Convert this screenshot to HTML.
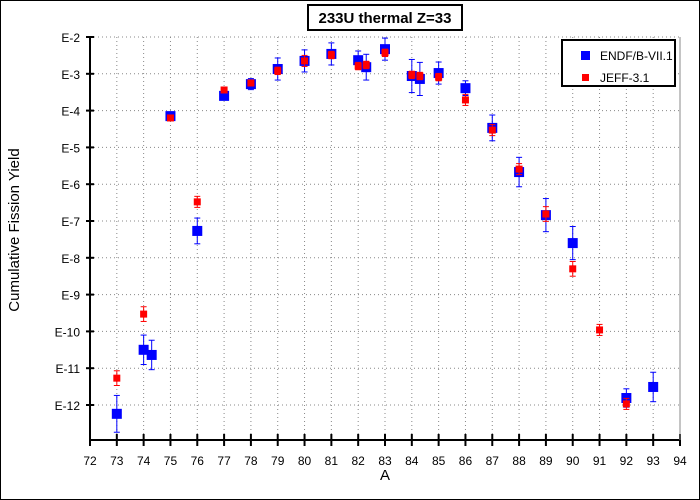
<!DOCTYPE html>
<html><head><meta charset="utf-8"><style>
body{margin:0;background:#fff}
svg{display:block;font-family:"Liberation Sans",sans-serif}
</style></head><body>
<svg id="c" width="700" height="500">
<rect x="0.5" y="0.5" width="699" height="499" fill="#fff" stroke="#000"/>
<rect x="308" y="5" width="154" height="25" fill="#fff" stroke="#000" stroke-width="2"/>
<text x="385" y="23" text-anchor="middle" font-size="15" font-weight="bold">233U thermal Z=33</text>
<g id="grid"></g>
<g id="axes"></g>
<g id="marks"></g>
<text x="385" y="480" text-anchor="middle" font-size="15">A</text>
<text transform="translate(19,230) rotate(-90)" text-anchor="middle" font-size="15">Cumulative Fission Yield</text>
<g>
<rect x="562" y="40" width="113" height="46" fill="#fff" stroke="#000" stroke-width="2"/>
<rect x="581" y="51" width="9" height="9" fill="#0000ff"/>
<text x="600" y="60" font-size="12">ENDF/B-VII.1</text>
<rect x="582" y="74" width="7" height="7" fill="#ff0000"/>
<text x="600" y="82" font-size="12">JEFF-3.1</text>
</g>
</svg>
<script>
const xTicks=[72,73,74,75,76,77,78,79,80,81,82,83,84,85,86,87,88,89,90,91,92,93,94];
const yTicks=[-2,-3,-4,-5,-6,-7,-8,-9,-10,-11,-12];
const yTickLabels=["E-2","E-3","E-4","E-5","E-6","E-7","E-8","E-9","E-10","E-11","E-12"];
const endfA=[73,74,74.3,75,76,77,78,79,80,81,82,82.3,83,84,84.3,85,86,87,88,89,90,92,93];
const endfLog=[-12.24,-10.5,-10.64,-4.15,-7.27,-3.6,-3.28,-2.87,-2.65,-2.46,-2.63,-2.82,-2.33,-3.06,-3.14,-2.98,-3.39,-4.47,-5.67,-6.84,-7.6,-11.81,-11.51];
const endfErr=[0.5,0.4,0.4,0.05,0.35,0.05,0.15,0.3,0.3,0.3,0.25,0.35,0.3,0.45,0.45,0.3,0.2,0.35,0.4,0.45,0.45,0.25,0.4];
const jeffA=[73,74,75,76,77,78,79,80,81,82,82.3,83,84,84.3,85,86,87,88,89,90,91,92];
const jeffLog=[-11.27,-9.53,-4.2,-6.48,-3.44,-3.25,-2.92,-2.65,-2.49,-2.79,-2.76,-2.43,-3.03,-3.06,-3.09,-3.71,-4.53,-5.59,-6.81,-8.3,-9.96,-11.97];
const jeffErr=[0.2,0.2,0.05,0.15,0.05,0.05,0.1,0.15,0.1,0.1,0.1,0.1,0.1,0.1,0.1,0.15,0.15,0.15,0.2,0.2,0.15,0.15];
const X=a=>90+(a-72)*(590/22);
const Y=l=>37+(-2-l)*36.8;
const NS="http://www.w3.org/2000/svg";
function mk(p,t,at){const e=document.createElementNS(NS,t);for(const k in at)e.setAttribute(k,at[k]);p.appendChild(e);return e;}
const grid=document.getElementById('grid'),axes=document.getElementById('axes'),marks=document.getElementById('marks');
xTicks.forEach(a=>{
 if(a>72){const l=mk(grid,'line',{x1:X(a),x2:X(a),y1:37,y2:440,stroke:'#888','stroke-dasharray':'1 3'});
 
 }
 const t=mk(axes,'line',{x1:X(a),x2:X(a),y1:434,y2:446,stroke:'#000','stroke-width':2});
 
 
 const tx=mk(axes,'text',{x:X(a),y:465,'text-anchor':'middle','font-size':12});
 tx.textContent=a;
 
 
});
yTicks.forEach((v,i)=>{
 const l=mk(grid,'line',{x1:90,x2:680,y1:Y(v),y2:Y(v),stroke:'#888','stroke-dasharray':'1 3'});
 
 
 const t=mk(axes,'line',{x1:86,x2:94,y1:Y(v),y2:Y(v),stroke:'#000','stroke-width':2});
 
 
 const tx=mk(axes,'text',{x:80,y:Y(v)+5,'text-anchor':'end','font-size':12});
 tx.textContent=yTickLabels[i];
 
 
});
const ax=mk(axes,'path',{d:'M90,37 V440 H680',fill:'none',stroke:'#000','stroke-width':2});


const rl=mk(axes,'line',{x1:680,x2:680,y1:37,y2:440,stroke:'#888'});


function series(A,L,E,col,sz,name){
 A.forEach((a,i)=>{
  const x=X(a),y=Y(L[i]),y1=Y(L[i]+E[i]),y2=Y(L[i]-E[i]);
  const g=mk(marks,'g',{});
  
  
  mk(g,'line',{x1:x,x2:x,y1:y1,y2:y2,stroke:col});
  mk(g,'line',{x1:x-3,x2:x+3,y1:y1,y2:y1,stroke:col});
  mk(g,'line',{x1:x-3,x2:x+3,y1:y2,y2:y2,stroke:col});
  mk(g,'rect',{x:x-sz/2,y:y-sz/2,width:sz,height:sz,fill:col});
 });
}
series(endfA,endfLog,endfErr,'#0000ff',10,'endf');
series(jeffA,jeffLog,jeffErr,'#ff0000',7,'jeff');
</script>
</body></html>
